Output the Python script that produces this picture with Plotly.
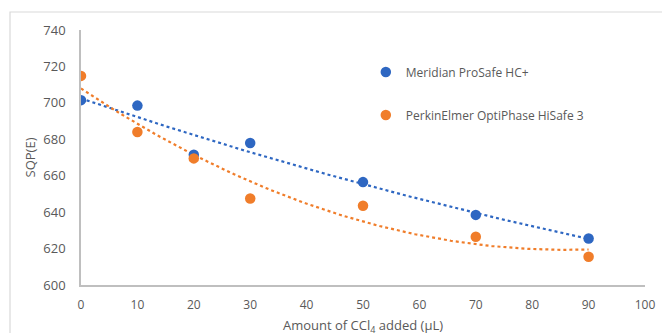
import numpy as np
import plotly.graph_objects as go

x_vals = [0, 10, 20, 30, 50, 70, 90]
meridian = [701.5, 698.5, 671.5, 678, 656.5, 638.5, 625.5]
perkin = [714.8, 684, 669.5, 647.5, 643.5, 626.5, 615.5]
names = ["Meridian ProSafe HC+", "PerkinElmer OptiPhase HiSafe 3"]
colors = ["#2E67C2", "#F07D2A"]
x_ticks = [0, 10, 20, 30, 40, 50, 60, 70, 80, 90, 100]
y_ticks = [600, 620, 640, 660, 680, 700, 720, 740]
x_title = "Amount of CCl<sub>4</sub> added (µL)"
y_title = "SQP(E)"

fig = go.Figure()
xs = np.linspace(0, 90, 200)
for i, (ys, name, col) in enumerate(zip([meridian, perkin], names, colors)):
    coef = np.polyfit(x_vals, ys, 2)
    fig.add_trace(go.Scatter(x=xs, y=np.polyval(coef, xs), mode="lines",
                             line=dict(color=col, width=2.2, dash="dot"),
                             showlegend=False, hoverinfo="skip"))
for i, (ys, name, col) in enumerate(zip([meridian, perkin], names, colors)):
    fig.add_trace(go.Scatter(x=x_vals, y=ys, mode="markers", name=name,
                             marker=dict(color=col, size=10.5),
                             legend="legend" if i == 0 else "legend2"))

legend_common = dict(bgcolor="rgba(0,0,0,0)", font=dict(family="Open Sans, Arial", size=12, color="#595959"),
                     xanchor="left", yanchor="middle", itemwidth=30)
fig.update_layout(
    width=662, height=333,
    margin=dict(l=81, r=17, t=30, b=48, autoexpand=False),
    paper_bgcolor="white", plot_bgcolor="white",
    font=dict(family="Open Sans, Arial", size=12, color="#595959"),
    legend=dict(x=0.505, y=(285 - 72) / 255, **legend_common),
    legend2=dict(x=0.505, y=(285 - 115) / 255, **legend_common),
    xaxis=dict(range=[0, 100], tickvals=x_ticks, showgrid=False, zeroline=False, automargin=False,
               showline=True, linecolor="#BFBFBF", linewidth=1.5,
               ticks="outside", ticklen=8, tickcolor="rgba(0,0,0,0)",
               tickfont=dict(size=12, color="#595959")),
    yaxis=dict(range=[600, 740], tickvals=y_ticks, showgrid=False, zeroline=False, automargin=False,
               showline=True, linecolor="#BFBFBF", linewidth=1.5,
               ticks="outside", ticklen=11, tickcolor="rgba(0,0,0,0)",
               tickfont=dict(size=13, color="#595959"),
               title=dict(text=y_title, standoff=5, font=dict(size=13, color="#595959"))),
    annotations=[dict(text=x_title, xref="paper", yref="paper", x=0.5, y=(285 - 326) / 255,
                      xanchor="center", yanchor="middle", showarrow=False,
                      font=dict(size=13, color="#595959"))],
    shapes=[dict(type="rect", xref="paper", yref="paper",
                 x0=(10 - 81) / 564, x1=(700 - 81) / 564,
                 y0=(285 - 400) / 255, y1=(285 - 12) / 255,
                 line=dict(color="#D9D9D9", width=1.2), fillcolor="rgba(0,0,0,0)", layer="below")],
)
fig.write_html("out.html")
